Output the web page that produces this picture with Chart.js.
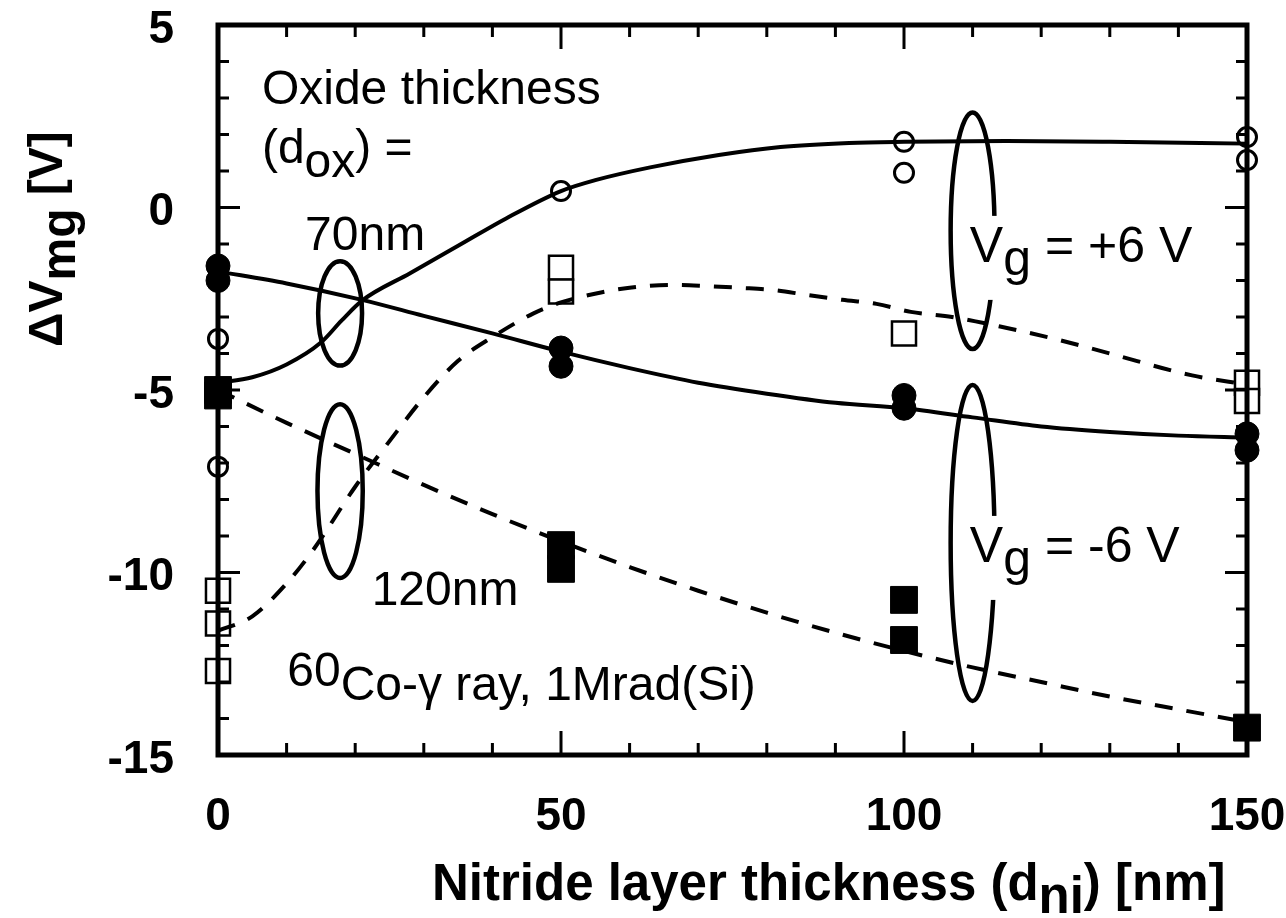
<!DOCTYPE html>
<html>
<head>
<meta charset="utf-8">
<script src="https://cdn.jsdelivr.net/npm/chart.js@4.4.1/dist/chart.umd.min.js"></script>
<style>
  html, body { margin: 0; padding: 0; background: #fff; }
  canvas { display: block; }
</style>
</head>
<body>
<canvas id="chart" width="1286" height="918"></canvas>
<script>
// ---- measured points: nitride thickness (nm) vs. ΔVmg (V) ----
// d_ox = 70 nm, Vg = +6 V (open circles)
const ox70PosX = [0, 0, 50, 100, 100, 150, 150];
const ox70PosY = [-3.6, -7.1, 0.45, 1.8, 0.95, 1.93, 1.3];
// d_ox = 70 nm, Vg = -6 V (filled circles)
const ox70NegX = [0, 0, 50, 50, 100, 100, 150, 150];
const ox70NegY = [-1.6, -2.0, -3.85, -4.35, -5.15, -5.5, -6.2, -6.65];
// d_ox = 120 nm, Vg = +6 V (open squares)
const ox120PosX = [0, 0, 0, 50, 50, 100, 150, 150];
const ox120PosY = [-10.5, -11.4, -12.7, -1.65, -2.3, -3.45, -4.8, -5.3];
// d_ox = 120 nm, Vg = -6 V (filled squares)
const ox120NegX = [0, 0, 50, 50, 100, 100, 150];
const ox120NegY = [-5.0, -5.15, -9.25, -9.9, -10.75, -11.85, -14.25];

// ---- guide curves drawn through the data ----
const fit70PosX = [0, 5, 10, 15, 18, 21, 28, 35, 42, 50, 55, 63, 73, 82, 92, 100, 115, 130, 150];
const fit70PosY = [-4.8, -4.65, -4.3, -3.7, -3.1, -2.55, -1.8, -1.05, -0.3, 0.45, 0.75, 1.1, 1.44, 1.66, 1.77, 1.8, 1.82, 1.8, 1.75];
const fit70NegX = [0, 10, 21, 30, 40, 50, 60, 70, 80, 90, 100, 110, 120, 130, 140, 150];
const fit70NegY = [-1.75, -2.08, -2.53, -2.97, -3.45, -3.95, -4.4, -4.8, -5.1, -5.35, -5.5, -5.75, -6.0, -6.15, -6.25, -6.3];
const fit120PosX = [0, 5, 10, 14, 20, 25, 30, 35, 40, 46, 50, 56, 60, 66, 71, 76, 81, 86, 91, 96, 101, 107, 115, 122, 130, 142, 150];
const fit120PosY = [-11.6, -11.2, -10.3, -9.35, -7.65, -6.4, -5.2, -4.2, -3.55, -2.9, -2.6, -2.32, -2.2, -2.12, -2.15, -2.2, -2.26, -2.4, -2.53, -2.64, -2.86, -3.0, -3.3, -3.6, -4.0, -4.6, -4.85];
const fit120NegX = [0, 10, 20, 30, 40, 50, 60, 70, 80, 90, 100, 110, 120, 130, 140, 150];
const fit120NegY = [-5.0, -5.9, -6.75, -7.6, -8.4, -9.15, -9.85, -10.5, -11.1, -11.65, -12.15, -12.6, -13.0, -13.4, -13.75, -14.1];

// ---- axis ticks ----
const xTickValues = [0, 50, 100, 150];
const yTickValues = [-15, -10, -5, 0, 5];

// group outlines (centre and half-axes in data units)
const groupRings = [
  { x: 17.8, y: -2.9,  rx: 3.2, ry: 1.43 },
  { x: 17.8, y: -7.77, rx: 3.3, ry: 2.38 },
  { x: 110,  y: -0.64, rx: 3.2, ry: 3.24 },
  { x: 110,  y: -9.19, rx: 3.2, ry: 4.33 }
];

// text notes; runs with dy are sub/superscripts (pixels)
const notes = [
  { x: 6.4,   y: 2.84,   size: 48, runs: [{ t: 'Oxide thickness' }] },
  { x: 6.4,   y: 1.22,   size: 48, runs: [{ t: '(d' }, { t: 'ox', dy: 14 }, { t: ') =' }] },
  { x: 12.7,  y: -1.16,  size: 48, runs: [{ t: '70nm' }] },
  { x: 22.4,  y: -10.89, size: 48, runs: [{ t: '120nm' }] },
  { x: 10.1,  y: -13.49, size: 48, runs: [{ t: '60', dy: -14 }, { t: 'Co-γ ray, 1Mrad(Si)' }] },
  { x: 109.6, y: -1.49,  size: 50, box: true, runs: [{ t: 'V' }, { t: 'g', dy: 13 }, { t: ' = +6 V' }] },
  { x: 109.6, y: -9.71,  size: 50, box: true, runs: [{ t: 'V' }, { t: 'g', dy: 13 }, { t: ' = -6 V' }] }
];

const pts = (xs, ys) => xs.map((x, i) => ({ x: x, y: ys[i] }));

const sansFamily = '"Liberation Sans", Arial, Helvetica, sans-serif';
const tickFont = { family: sansFamily, size: 46, weight: '700' };

function drawRuns(ctx, x, y, runs) {
  let cx = x;
  for (const r of runs) {
    ctx.fillText(r.t, cx, y + (r.dy || 0));
    cx += ctx.measureText(r.t).width;
  }
  return cx - x;
}
function runsWidth(ctx, runs) {
  return runs.reduce((w, r) => w + ctx.measureText(r.t).width, 0);
}

const decorPlugin = {
  id: 'figureDecor',
  afterDatasetsDraw(chart) {
    const { ctx, chartArea: a, scales } = chart;
    const xs = scales.x, ys = scales.y;
    ctx.save();
    ctx.strokeStyle = '#000';
    ctx.fillStyle = '#000';
    ctx.lineCap = 'butt';

    // frame
    ctx.lineWidth = 5;
    ctx.strokeRect(a.left, a.top, a.right - a.left, a.bottom - a.top);

    // inward ticks
    ctx.lineWidth = 3;
    ctx.beginPath();
    for (let v = ys.min; v <= ys.max; v += 1) {
      const p = ys.getPixelForValue(v);
      const len = (v % 5 === 0) ? 22 : 11;
      ctx.moveTo(a.left, p); ctx.lineTo(a.left + len, p);
      ctx.moveTo(a.right, p); ctx.lineTo(a.right - len, p);
    }
    for (let v = xs.min; v <= xs.max; v += 10) {
      const p = xs.getPixelForValue(v);
      const len = (v % 50 === 0) ? 24 : 12;
      ctx.moveTo(p, a.bottom); ctx.lineTo(p, a.bottom - len);
      ctx.moveTo(p, a.top); ctx.lineTo(p, a.top + len);
    }
    ctx.stroke();

    // group outlines
    ctx.lineWidth = 4.5;
    for (const e of groupRings) {
      const cx = xs.getPixelForValue(e.x), cy = ys.getPixelForValue(e.y);
      const rx = Math.abs(xs.getPixelForValue(e.x + e.rx) - cx);
      const ry = Math.abs(ys.getPixelForValue(e.y + e.ry) - cy);
      ctx.beginPath();
      ctx.ellipse(cx, cy, rx, ry, 0, 0, Math.PI * 2);
      ctx.stroke();
    }

    // notes
    ctx.textBaseline = 'alphabetic';
    ctx.textAlign = 'left';
    for (const n of notes) {
      ctx.font = '400 ' + n.size + 'px ' + sansFamily;
      const x = xs.getPixelForValue(n.x), y = ys.getPixelForValue(n.y);
      if (n.box) {
        const w = runsWidth(ctx, n.runs);
        ctx.fillStyle = '#fff';
        ctx.fillRect(x - 4, y - 46, w + 8, 84);
        ctx.fillStyle = '#000';
      }
      drawRuns(ctx, x, y, n.runs);
    }

    // x-axis title
    ctx.font = '700 51px ' + sansFamily;
    drawRuns(ctx, 432, 900, [{ t: 'Nitride layer thickness (d' }, { t: 'ni', dy: 13 }, { t: ') [nm]' }]);

    // y-axis title (rotated)
    ctx.save();
    ctx.translate(62, 347);
    ctx.rotate(-Math.PI / 2);
    ctx.font = '700 48px ' + sansFamily;
    drawRuns(ctx, 0, 0, [{ t: 'ΔV' }, { t: 'mg', dy: 13 }, { t: ' [V]' }]);
    ctx.restore();

    ctx.restore();
  }
};

const markerBase = { showLine: false, clip: false, borderColor: '#000' };
const curveBase = {
  showLine: true, pointRadius: 0, clip: false, borderColor: '#000',
  borderWidth: 4, cubicInterpolationMode: 'monotone', fill: false
};

new Chart(document.getElementById('chart'), {
  type: 'scatter',
  data: {
    datasets: [
      Object.assign({}, curveBase, { label: '70 nm, +6 V fit', data: pts(fit70PosX, fit70PosY) }),
      Object.assign({}, curveBase, { label: '70 nm, -6 V fit', data: pts(fit70NegX, fit70NegY) }),
      Object.assign({}, curveBase, { label: '120 nm, +6 V fit', data: pts(fit120PosX, fit120PosY), borderDash: [18, 14] }),
      Object.assign({}, curveBase, { label: '120 nm, -6 V fit', data: pts(fit120NegX, fit120NegY), borderDash: [18, 14] }),
      Object.assign({}, markerBase, { label: '70 nm, +6 V', data: pts(ox70PosX, ox70PosY), pointStyle: 'circle', pointRadius: 9.5, borderWidth: 3, backgroundColor: '#fff' }),
      Object.assign({}, markerBase, { label: '70 nm, -6 V', data: pts(ox70NegX, ox70NegY), pointStyle: 'circle', pointRadius: 12, borderWidth: 1, backgroundColor: '#000' }),
      Object.assign({}, markerBase, { label: '120 nm, +6 V', data: pts(ox120PosX, ox120PosY), pointStyle: 'rect', pointRadius: 17, borderWidth: 2.5, backgroundColor: '#fff' }),
      Object.assign({}, markerBase, { label: '120 nm, -6 V', data: pts(ox120NegX, ox120NegY), pointStyle: 'rect', pointRadius: 19, borderWidth: 1, backgroundColor: '#000' })
    ]
  },
  options: {
    responsive: false,
    devicePixelRatio: 1,
    animation: false,
    events: [],
    layout: { padding: { left: 0, right: 39, top: 25, bottom: 0 } },
    plugins: { legend: { display: false }, tooltip: { enabled: false } },
    elements: { point: { hoverRadius: 0 } },
    scales: {
      x: {
        type: 'linear', min: 0, max: 150,
        afterBuildTicks: s => { s.ticks = xTickValues.map(v => ({ value: v })); },
        afterFit: s => { s.height = 163; s.paddingLeft = 0; s.paddingRight = 0; },
        grid: { display: false }, border: { display: false },
        ticks: { color: '#000', padding: 27, maxRotation: 0, font: tickFont }
      },
      y: {
        type: 'linear', min: -15, max: 5,
        afterBuildTicks: s => { s.ticks = yTickValues.map(v => ({ value: v })); },
        afterFit: s => { s.width = 218; s.paddingTop = 0; s.paddingBottom = 0; },
        grid: { display: false }, border: { display: false },
        ticks: { color: '#000', padding: 36, labelOffset: 5, font: tickFont }
      }
    }
  },
  plugins: [decorPlugin]
});
</script>
</body>
</html>
